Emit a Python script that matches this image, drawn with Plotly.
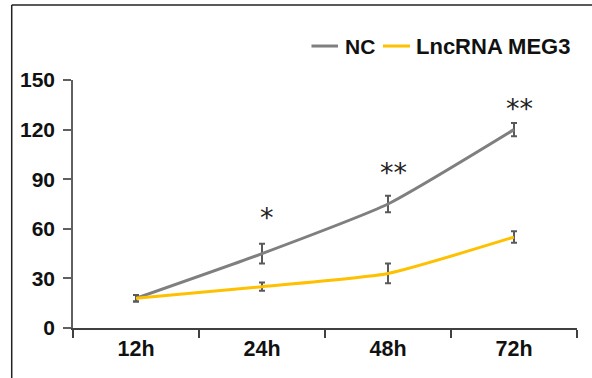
import plotly.graph_objects as go

categories = ["12h", "24h", "48h", "72h"]
nc_values = [18, 45, 75, 120]
nc_errors = [2, 6, 5, 4]
meg3_values = [18, 25, 33, 55]
meg3_errors = [2, 2.5, 6, 3.5]
star_labels = ["", "*", "**", "**"]
star_y = [None, 67, 94, 133]
y_ticks = [0, 30, 60, 90, 120, 150]
series_names = ["NC", "LncRNA MEG3"]
series_colors = ["#7f7f7f", "#ffc000"]

FONT = "Liberation Sans, Arial, sans-serif"

fig = go.Figure()
for name, vals, errs, col in zip(series_names, [nc_values, meg3_values],
                                 [nc_errors, meg3_errors], series_colors):
    fig.add_trace(go.Scatter(
        x=categories, y=vals, name=name, mode="lines",
        line=dict(color=col, width=3, shape="spline", smoothing=0.5),
        error_y=dict(type="data", array=errs, color="#595959", thickness=2, width=3),
    ))

for c, s, yv in zip(categories, star_labels, star_y):
    if s:
        fig.add_annotation(x=c, y=yv, text=s, showarrow=False, xshift=5,
                           font=dict(family="DejaVu Sans, sans-serif", size=27, color="#222"))

# manual legend (line samples + labels)
leg_y = 1.137
leg_lines = [(0.4732, 0.5258), (0.6151, 0.6687)]
leg_text_x = [0.5357, 0.6775]
leg_sizes = [21, 22]
for (x0, x1), tx, name, col, fs in zip(leg_lines, leg_text_x, series_names, series_colors, leg_sizes):
    fig.add_shape(type="line", xref="paper", yref="paper", x0=x0, x1=x1, y0=leg_y, y1=leg_y,
                  line=dict(color=col, width=3))
    fig.add_annotation(xref="paper", yref="paper", x=tx, y=leg_y, xanchor="left", yanchor="middle",
                       text=name, showarrow=False,
                       font=dict(family=FONT, size=fs, color="#111", weight="bold"))

# outer frame (left and top lines)
fig.add_shape(type="line", xref="paper", yref="paper", x0=-0.1216, x1=-0.1216, y0=1.302, y1=-0.21,
              line=dict(color="#222", width=1.5))
fig.add_shape(type="line", xref="paper", yref="paper", x0=-0.1216, x1=1.05, y0=1.302, y1=1.302,
              line=dict(color="#222", width=1.5))

fig.update_layout(
    width=592, height=378,
    margin=dict(l=73, r=15, t=80, b=50, autoexpand=False),
    paper_bgcolor="white", plot_bgcolor="white",
    font=dict(family=FONT, size=20, color="#111"),
    showlegend=False,
    xaxis=dict(
        type="category", categoryorder="array", categoryarray=categories,
        range=[-0.5, 3.5], showline=True, linecolor="#404040", linewidth=1.5,
        ticks="outside", tickson="boundaries", ticklen=8, tickcolor="#404040", tickwidth=1.5,
        showgrid=False, zeroline=False, automargin=False,
        tickfont=dict(family=FONT, size=21.5, color="#111", weight="bold"),
    ),
    yaxis=dict(
        range=[0, 150], tickvals=y_ticks, showline=True, linecolor="#606060", linewidth=1.5,
        ticks="outside", ticklen=8, tickcolor="#606060", tickwidth=1.5,
        showgrid=False, zeroline=False, automargin=False, ticklabelstandoff=4,
        tickfont=dict(family=FONT, size=21, color="#111", weight="bold"),
    ),
)

fig.write_html("out.html", config={"displayModeBar": False},
               post_script="document.body.style.margin='0';")
